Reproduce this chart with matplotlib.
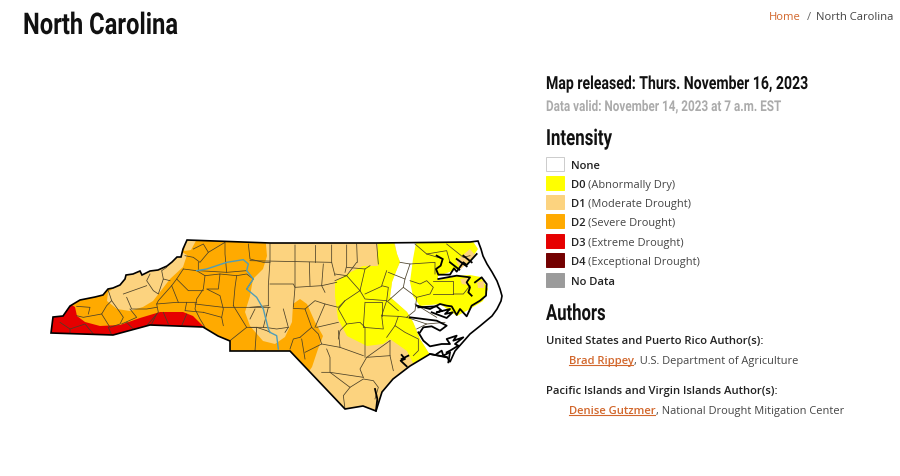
import matplotlib
matplotlib.use('Agg')
import matplotlib.pyplot as plt
import matplotlib.patheffects as pe
from matplotlib.patches import Polygon, Rectangle
from matplotlib.transforms import Affine2D

# colours
D0 = '#FFFF00'
D1 = '#FCD37F'
D2 = '#FFAA00'
D3 = '#E60000'
D4 = '#730000'
NODATA = '#9B9B9B'
ORANGE = '#D2672C'
RIVER = '#4F9DB8'

HEAD_FONT = ['Roboto', 'DejaVu Sans']
BODY_FONT = ['Open Sans', 'DejaVu Sans']

# legend
legend_codes = ['None', 'D0', 'D1', 'D2', 'D3', 'D4', 'No Data']
legend_names = ['', '(Abnormally Dry)', '(Moderate Drought)', '(Severe Drought)',
                '(Extreme Drought)', '(Exceptional Drought)', '']
legend_colors = ['white', D0, D1, D2, D3, D4, NODATA]

# map, in image pixels
state = [(51, 334), (53, 318), (63, 317), (70, 307), (80, 301), (95, 298), (103, 296), (108, 290),
         (113, 289), (120, 286), (125, 280), (126, 276), (133, 275), (140, 272), (142, 276),
         (150, 272), (158, 271), (167, 267), (172, 263), (177, 258), (181, 258), (183, 250), (187, 241),
         (270, 244), (377, 244), (470, 243), (478, 242), (481, 250), (483, 257), (487, 265), (492, 273),
         (497, 282), (500, 290), (502, 297), (501, 302), (497, 310), (492, 317), (480, 327),
         (470, 335), (463, 343), (455, 352), (450, 363), (447, 358), (430, 355), (410, 367),
         (393, 380), (382, 393), (376, 412), (363, 407), (345, 410), (290, 352), (230, 352),
         (230, 342), (218, 337), (203, 328), (150, 326), (113, 336)]
land_d1 = [(40, 345), (40, 230), (393, 235), (397, 255), (400, 263), (397, 270), (392, 283),
           (390, 298), (407, 313), (413, 323), (420, 340), (430, 356), (420, 420), (300, 420)]
area_d2 = [(40, 350), (40, 230), (265, 235), (267, 257), (263, 270), (253, 280), (250, 297),
           (245, 313), (250, 327), (263, 342), (275, 345), (285, 338), (292, 323), (293, 305),
           (300, 300), (307, 305), (315, 323), (323, 337), (318, 350), (312, 368), (300, 385)]
area_d1_west = [(108, 293), (120, 285), (127, 270), (140, 262), (167, 257), (177, 250),
                (187, 256), (183, 268), (170, 280), (160, 293), (153, 302), (143, 308),
                (130, 312), (117, 310), (107, 302)]
area_d1_top = [(186, 238), (198, 238), (191, 251), (184, 252)]
area_d3 = [(40, 300), (70, 305), (75, 308), (77, 317), (85, 323), (100, 327), (120, 326),
           (140, 319), (160, 313), (183, 313), (193, 317), (205, 329), (200, 350), (40, 350)]
area_d0_mid = [(335, 283), (347, 275), (363, 267), (378, 267), (377, 258), (378, 240), (393, 240),
               (397, 255), (400, 263), (397, 270), (392, 283), (390, 298), (407, 313), (413, 323),
               (420, 340), (430, 356), (413, 364), (407, 352), (390, 340), (383, 345), (367, 347),
               (347, 337), (338, 320), (335, 297)]
area_d0_east = [(417, 238), (470, 238), (478, 250), (470, 262), (457, 272), (480, 277), (488, 290),
                (483, 302), (470, 310), (457, 317), (440, 305), (420, 307), (413, 297),
                (410, 283), (413, 260)]
albemarle = [(438, 277), (447, 274), (457, 270), (473, 262), (482, 262), (486, 279), (470, 276), (457, 277), (438, 281)]
tan_patches = [[(456, 262), (470, 250), (475, 256), (461, 270)],
               [(460, 280), (468, 279), (468, 286), (462, 285)],
               [(477, 283), (484, 282), (484, 289), (478, 289)]]

# county lines, crop coordinates of the western and eastern half
west_lines = [
    [(490, 60), (520, 45), (535, 70), (585, 40), (585, 75), (590, 130)],
    [(535, 70), (510, 100), (490, 85), (465, 80)],
    [(505, 100), (505, 125), (590, 130), (650, 125)],
    [(655, 45), (660, 90), (700, 100), (720, 100)],
    [(460, 120), (500, 125), (525, 140), (520, 180), (500, 210), (495, 240), (510, 270), (525, 295)],
    [(525, 140), (570, 135), (565, 180), (530, 180), (570, 200), (580, 240), (575, 265), (580, 290)],
    [(570, 135), (620, 140), (615, 175), (610, 230)],
    [(620, 140), (650, 135), (670, 150), (650, 180)],
    [(495, 225), (580, 235), (720, 235)],
    [(610, 230), (650, 295), (600, 335)],
    [(650, 295), (680, 295), (710, 305), (720, 310)],
    [(680, 295), (675, 365)],
    [(520, 250), (575, 265)],
    [(460, 120), (440, 150), (475, 185), (520, 185)],
    [(440, 150), (425, 170), (385, 215), (380, 225), (440, 220), (500, 220)],
    [(425, 170), (445, 220)],
    [(470, 220), (465, 245), (520, 250)],
    [(380, 225), (385, 250), (350, 290)],
    [(360, 135), (350, 155), (370, 185), (385, 195), (395, 165), (400, 150), (420, 155)],
    [(410, 115), (395, 125), (400, 150)],
    [(280, 195), (350, 170)],
    [(290, 205), (305, 240), (350, 240), (380, 235)],
    [(235, 185), (245, 215), (230, 230), (215, 255), (160, 265), (140, 260)],
    [(245, 215), (270, 250), (280, 265), (270, 285), (240, 295), (215, 255)],
    [(300, 240), (320, 265), (275, 285)],
    [(140, 232), (180, 235), (175, 255)],
    [(120, 312), (120, 300), (90, 280)],
    [(120, 300), (165, 285), (190, 315)],
    [(235, 295), (245, 318)],
    [(290, 280), (310, 300)],
    [(365, 285), (380, 255)],
    [(415, 285), (400, 250)],
    [(455, 290), (470, 255)],
]
east_lines = [
    [(60, 45), (60, 95), (55, 170), (55, 230)],
    [(135, 48), (135, 175), (130, 235)],
    [(195, 48), (195, 100)],
    [(245, 48), (245, 100), (255, 140)],
    [(290, 48), (290, 110), (285, 130)],
    [(320, 45), (322, 100)],
    [(380, 45), (385, 105)],
    [(0, 95), (245, 100)],
    [(60, 165), (130, 165), (135, 175), (215, 170), (260, 160)],
    [(178, 100), (180, 170)],
    [(220, 105), (215, 170), (225, 190)],
    [(255, 135), (290, 140), (320, 100)],
    [(290, 115), (345, 120), (360, 110)],
    [(255, 155), (290, 140), (330, 185), (285, 215), (265, 235), (225, 225)],
    [(330, 185), (345, 210), (410, 215), (415, 175), (395, 170), (410, 125)],
    [(345, 120), (330, 185)],
    [(345, 195), (395, 172)],
    [(345, 220), (395, 220), (395, 260)],
    [(285, 215), (265, 240), (290, 285), (270, 305), (265, 330)],
    [(290, 285), (330, 280), (345, 295), (345, 385)],
    [(345, 220), (340, 295), (400, 300), (395, 260), (445, 262), (435, 290), (410, 325)],
    [(395, 260), (410, 215), (445, 245)],
    [(415, 215), (460, 175), (500, 205), (495, 245), (470, 265), (445, 262)],
    [(415, 130), (465, 150), (460, 175)],
    [(450, 100), (480, 105), (465, 150)],
    [(435, 290), (465, 310), (505, 330), (505, 365), (490, 380)],
    [(420, 335), (420, 380), (430, 425)],
    [(420, 335), (350, 385), (420, 380)],
    [(350, 385), (330, 420), (340, 445)],
    [(230, 360), (240, 385), (240, 430), (340, 445)],
    [(150, 325), (130, 330), (120, 360)],
    [(155, 330), (160, 360), (165, 390)],
    [(150, 325), (185, 295), (205, 315), (215, 345), (165, 370)],
    [(200, 295), (265, 280)],
    [(215, 345), (270, 355), (340, 380)],
    [(270, 355), (265, 305)],
    [(185, 295), (165, 240), (195, 215), (225, 225), (195, 295)],
    [(215, 430), (240, 430), (300, 475), (340, 450), (370, 455), (385, 475), (375, 510)],
    [(300, 475), (280, 500), (285, 540)],
    [(130, 238), (165, 240)],
    [(55, 230), (0, 235)],
    [(55, 235), (40, 295)],
    [(15, 240), (0, 270)],
    [(100, 240), (115, 295), (80, 300), (45, 295), (0, 295)],
    [(115, 295), (105, 310)],
    [(480, 105), (555, 100), (555, 135)],
    [(480, 155), (510, 165), (530, 155), (550, 175), (540, 195), (500, 205)],
    [(550, 155), (610, 155), (610, 195)],
    [(610, 195), (640, 195), (660, 170)],
    [(550, 195), (610, 195)],
    [(495, 45), (530, 75), (590, 65), (600, 100)],
    [(590, 45), (640, 85), (660, 80)],
    [(530, 75), (580, 90)],
    [(495, 225), (560, 265)],
    [(470, 265), (530, 285), (585, 280)],
    [(500, 300), (530, 285)],
]
east_shore = [
    [(560, 80), (578, 90), (572, 110), (558, 120), (565, 137), (600, 137), (612, 118), (620, 128), (640, 100), (650, 108), (680, 75)],
    [(600, 100), (628, 122)],
    [(620, 90), (650, 112)],
    [(640, 80), (665, 100)],
    [(565, 150), (620, 140), (660, 145), (650, 160), (660, 175), (655, 190), (665, 200)],
    [(675, 160), (695, 145), (710, 165), (708, 200), (690, 215), (665, 230), (650, 262),
     (630, 240), (620, 258), (605, 232), (590, 230), (570, 225), (540, 240), (500, 230)],
    [(505, 235), (560, 232), (575, 245), (560, 250), (600, 240), (585, 255), (608, 250), (590, 267), (545, 250)],
    [(480, 265), (520, 270), (560, 275), (590, 290), (570, 305), (545, 292), (520, 295), (510, 310)],
    [(505, 310), (520, 335), (540, 352), (575, 345), (600, 345), (590, 330), (620, 320), (610, 335), (640, 325), (615, 345), (625, 350), (600, 365), (590, 370)],
    [(560, 375), (575, 365), (580, 380), (595, 372)],
    [(595, 400), (600, 370)],
    [(540, 375), (590, 385)],
    [(455, 378), (465, 390), (452, 395), (470, 412)],
    [(455, 390), (475, 380)],
    [(375, 480), (382, 510), (378, 545)],
]
river_west = [(500, 125), (530, 120), (590, 100), (640, 92), (655, 105), (650, 125), (670, 150),
              (650, 180), (680, 205), (700, 240), (715, 300), (720, 310)]
river_east = [(60, 310), (80, 320), (85, 360)]


def west(pts):
    return [(30 + x / 3, 230 + y / 3) for x, y in pts]


def east(pts):
    return [(250 + x / 3, 230 + y / 3) for x, y in pts]


class Narrow(pe.AbstractPathEffect):
    # squeezes the glyphs sideways, the heading font of the page is condensed
    def __init__(self, sx):
        super().__init__()
        self.sx = sx

    def draw_path(self, renderer, gc, tpath, affine, rgbFace=None):
        renderer.draw_path(gc, tpath, Affine2D().scale(self.sx, 1) + affine, rgbFace)


fig = plt.figure(figsize=(9, 4.77), dpi=100)
ax = fig.add_axes([0, 0, 1, 1])
ax.set_xlim(0, 900)
ax.set_ylim(477, 0)
ax.axis('off')

outline = Polygon(state, closed=True, facecolor='white', edgecolor='none', zorder=1)
ax.add_patch(outline)
layers = [(land_d1, D1), (area_d2, D2), (area_d1_west, D1), (area_d1_top, D1), (area_d3, D3),
          (area_d0_mid, D0), (area_d0_east, D0), (albemarle, 'white')]
layers += [(p, D1) for p in tan_patches]
for pts, col in layers:
    p = Polygon(pts, closed=True, facecolor=col, edgecolor='none', zorder=2)
    ax.add_patch(p)
    p.set_clip_path(outline)

for line in west_lines:
    xs, ys = zip(*west(line))
    ax.plot(xs, ys, color='#4a4028', lw=0.55, zorder=3, clip_path=outline)
for line in east_lines:
    xs, ys = zip(*east(line))
    ax.plot(xs, ys, color='#4a4028', lw=0.55, zorder=3, clip_path=outline)
for line in east_shore:
    xs, ys = zip(*east(line))
    ax.plot(xs, ys, color='black', lw=1.3, zorder=4)
for line in (west(river_west), east(river_east)):
    xs, ys = zip(*line)
    ax.plot(xs, ys, color=RIVER, lw=1.0, zorder=4)
ax.add_patch(Polygon(state, closed=True, facecolor='none', edgecolor='black', lw=1.2, zorder=5))


def run_text(x, y, parts):
    # several styles on one baseline
    rend = fig.canvas.get_renderer()
    for s, kw in parts:
        t = ax.text(x, y, s, va='baseline', ha='left', **kw)
        x = t.get_window_extent(rend).x1
    return x


head = dict(family=HEAD_FONT, fontweight='bold', color='#111111')
body = dict(family=BODY_FONT, fontsize=7.95, color='#444444')
semi = dict(family=BODY_FONT, fontsize=8.1, color='#222222', fontweight='semibold')
link = dict(family=BODY_FONT, fontsize=8.1, color=ORANGE, fontweight='semibold')

ax.text(23, 35, 'North Carolina', fontsize=21.5, va='baseline', path_effects=[Narrow(0.795)], **head)
ax.text(893, 20, 'North Carolina', family=BODY_FONT, fontsize=8.1, color='#444444', ha='right', va='baseline')
ax.text(801, 20, 'Home', family=BODY_FONT, fontsize=8.1, color=ORANGE, ha='right', va='baseline')
ax.text(809, 20, '/', family=BODY_FONT, fontsize=8.1, color='#666666', ha='center', va='baseline')

ax.text(546, 90, 'Map released: Thurs. November 16, 2023', fontsize=13, va='baseline',
        path_effects=[Narrow(0.78)], **head)
ax.text(546, 112, 'Data valid: November 14, 2023 at 7 a.m. EST', fontsize=10.7, va='baseline',
        family=HEAD_FONT, fontweight='bold', color='#ABABAB', path_effects=[Narrow(0.79)])
ax.text(546, 146, 'Intensity', fontsize=16, va='baseline', path_effects=[Narrow(0.76)], **head)
ax.text(546, 321, 'Authors', fontsize=16, va='baseline', path_effects=[Narrow(0.75)], **head)

ys = [165, 184, 203, 222, 242, 261, 281]
for code, name, col, y in zip(legend_codes, legend_names, legend_colors, ys):
    ax.add_patch(Rectangle((546, y - 7), 17.5, 14, facecolor=col,
                           edgecolor='#cccccc' if col == 'white' else col, lw=0.7))
    run_text(571, y + 4, [(code + ' ', semi), (name, body)])

ax.text(546, 344, 'United States and Puerto Rico Author(s):', va='baseline', **semi)
run_text(569, 364, [('Brad Rippey', link), (', U.S. Department of Agriculture', body)])
ax.plot([569, 633], [366, 366], color=ORANGE, lw=0.8)
ax.text(546, 394, 'Pacific Islands and Virgin Islands Author(s):', va='baseline', **semi)
run_text(569, 414, [('Denise Gutzmer', link), (', National Drought Mitigation Center', body)])
ax.plot([569, 655], [416, 416], color=ORANGE, lw=0.8)

fig.savefig('out.png', dpi=100)
